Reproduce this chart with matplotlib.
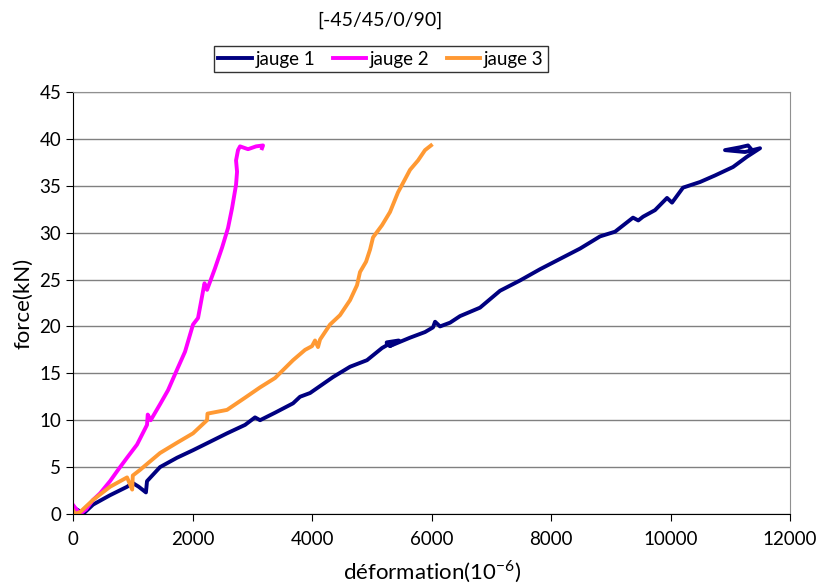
import numpy as np
import matplotlib.pyplot as plt

plt.rcParams['font.family'] = ['Lato', 'DejaVu Sans']
plt.rcParams['mathtext.fontset'] = 'custom'
plt.rcParams['mathtext.rm'] = 'Lato'

# jauge 1 (navy)
x1 = [0, 84, 167, 335, 619, 904, 1000, 1100, 1220, 1238, 1456, 1741, 2008, 2293, 2577, 2879,
      3046, 3130, 3381, 3682, 3799, 3967, 4351, 4636, 4920, 5172, 5255, 5250, 5450, 5300,
      5640, 5891, 6025, 6059, 6142, 6310, 6477, 6811, 7146, 7481, 7816, 8150, 8485, 8820,
      9071, 9372, 9460, 9540, 9740, 9941, 10025, 10209, 10494, 10745, 11046, 11280, 11498,
      11246, 10912, 11163, 11297, 11364]
y1 = [0.7, 0.4, 0.0, 1.0, 2.0, 2.9, 3.3, 2.9, 2.3, 3.5, 5.0, 6.0, 6.8, 7.7, 8.6, 9.5,
      10.3, 10.0, 10.8, 11.8, 12.5, 12.9, 14.6, 15.7, 16.4, 17.7, 18.0, 18.3, 18.5, 17.9,
      18.8, 19.4, 19.9, 20.5, 20.0, 20.4, 21.1, 22.0, 23.8, 24.9, 26.1, 27.2, 28.3, 29.6,
      30.1, 31.6, 31.3, 31.7, 32.4, 33.7, 33.2, 34.8, 35.4, 36.1, 37.0, 38.1, 39.0,
      38.6, 38.8, 39.1, 39.3, 38.8]

# jauge 2 (magenta)
x2 = [0, 117, 218, 335, 452, 619, 753, 904, 1071, 1238, 1250, 1300, 1456, 1590, 1741, 1874,
      2008, 2092, 2200, 2243, 2376, 2494, 2594, 2661, 2728, 2745, 2728, 2761, 2795, 2929,
      3063, 3180, 3163]
y2 = [0.96, 0.0, 0.5, 1.5, 2.2, 3.5, 4.7, 6.0, 7.4, 9.5, 10.6, 10.0, 11.7, 13.2, 15.4, 17.3,
      20.2, 20.9, 24.6, 23.9, 26.2, 28.4, 30.5, 32.6, 35.1, 36.5, 37.7, 38.8, 39.2, 38.9,
      39.2, 39.3, 39.0]

# jauge 3 (orange)
x3 = [0, 33, 117, 335, 619, 904, 990, 1000, 1121, 1456, 1741, 2008, 2243, 2250, 2577, 2879,
      3130, 3381, 3682, 3883, 4000, 4050, 4100, 4134, 4301, 4468, 4636, 4753, 4803, 4904,
      4971, 5021, 5172, 5305, 5439, 5523, 5640, 5774, 5891, 5991]
y3 = [0.4, 0.0, 0.2, 1.5, 2.9, 3.9, 2.6, 4.1, 4.7, 6.5, 7.6, 8.6, 10.0, 10.7, 11.1, 12.4,
      13.5, 14.5, 16.4, 17.5, 17.9, 18.5, 17.8, 18.6, 20.2, 21.2, 22.8, 24.4, 25.8, 26.9,
      28.2, 29.5, 30.8, 32.2, 34.3, 35.3, 36.7, 37.7, 38.8, 39.3]

fig = plt.figure(figsize=(8.17, 5.84), dpi=100)
ax = fig.add_axes([0.0894, 0.1199, 0.8776, 0.7226])

ax.plot(x1, y1, color='#000080', lw=2.8, label='jauge 1', solid_joinstyle='round')
ax.plot(x2, y2, color='#ff00ff', lw=2.8, label='jauge 2', solid_joinstyle='round')
ax.plot(x3, y3, color='#ff9933', lw=2.8, label='jauge 3', solid_joinstyle='round')

ax.set_xlim(0, 12000)
ax.set_ylim(0, 45)
ax.set_xticks(np.arange(0, 12001, 2000))
ax.set_yticks(np.arange(0, 46, 5))
ax.yaxis.grid(True, color='#808080', lw=1)
ax.set_axisbelow(True)
for s in ['top', 'right']:
    ax.spines[s].set_color('#909090')
ax.spines['left'].set_color('black')
ax.spines['bottom'].set_color('black')
ax.tick_params(direction='out', length=5, labelsize=13.5, colors='black')
ax.tick_params(axis='x', pad=7)

ax.set_xlabel('déformation(10$^{-6}$)', fontsize=16, va='center')
ax.xaxis.set_label_coords(0.5, -0.138)
ax.set_ylabel('force(kN)', fontsize=16, labelpad=4)

fig.text(380 / 817, 1 - 20 / 584, '[-45/45/0/90]', ha='center', va='center', fontsize=14)
leg = fig.legend(loc='center', bbox_to_anchor=(381 / 817, 1 - 59 / 584), ncol=3,
                 fontsize=13.5, frameon=True, fancybox=False, edgecolor='black',
                 handlelength=1.8, handletextpad=0.2, columnspacing=0.9,
                 borderpad=0.25)
leg.get_frame().set_linewidth(1)

fig.savefig('out.png', dpi=100)
